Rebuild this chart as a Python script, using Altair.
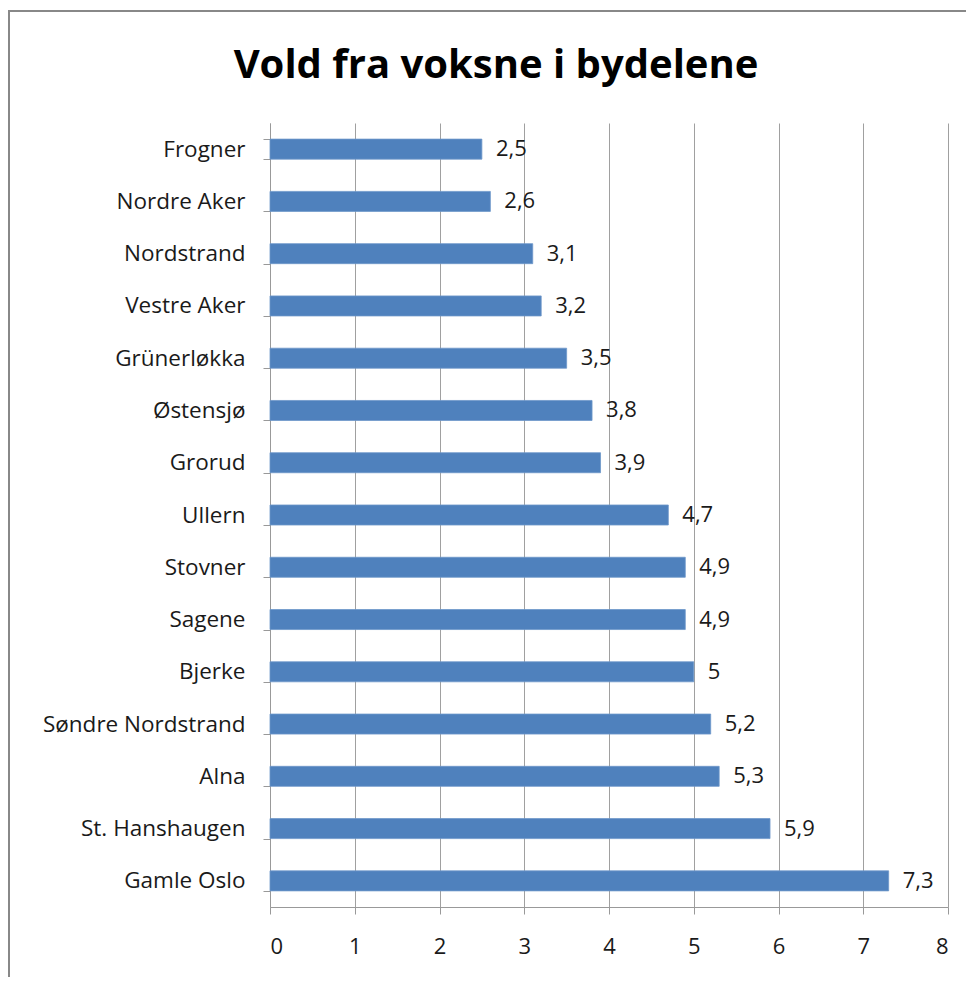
import altair as alt
import pandas as pd

districts = ["Frogner", "Nordre Aker", "Nordstrand", "Vestre Aker", "Grünerløkka",
             "Østensjø", "Grorud", "Ullern", "Stovner", "Sagene", "Bjerke",
             "Søndre Nordstrand", "Alna ", "St. Hanshaugen", "Gamle Oslo"]
values = [2.5, 2.6, 3.1, 3.2, 3.5, 3.8, 3.9, 4.7, 4.9, 4.9, 5.0, 5.2, 5.3, 5.9, 7.3]
labels = ["2,5", "2,6", "3,1", "3,2", "3,5", "3,8", "3,9", "4,7", "4,9", "4,9", "5",
          "5,2", "5,3", "5,9", "7,3"]
x_ticks = [0, 1, 2, 3, 4, 5, 6, 7, 8]
title_text = ["Vold fra voksne i bydelene"]

df = pd.DataFrame({"district": districts, "value": values, "label": labels})
tdf = pd.DataFrame({"t": title_text})

FONT = "Open Sans"
W, H = 678, 784

y_enc = alt.Y("district:N", sort=districts,
              scale=alt.Scale(paddingInner=0.617, paddingOuter=0.3085),
              axis=alt.Axis(title=None, tickBand="extent", grid=False,
                            domainColor="#999999", tickColor="#999999", tickSize=7,
                            labelFont=FONT, labelFontSize=22.5, labelColor="#1a1a1a",
                            labelPadding=18, labelLimit=400))
x_enc = alt.X("value:Q", scale=alt.Scale(domain=[0, 8], nice=False),
              axis=alt.Axis(title=None, values=x_ticks, grid=True, gridColor="#a0a0a0",
                            domainColor="#999999", tickColor="#999999", tickSize=7,
                            labelFont=FONT, labelFontSize=22, labelColor="#1a1a1a",
                            labelPadding=22, format="d"))

bars = alt.Chart(df).mark_bar(color="#4F81BD", stroke="#6d97c9", strokeWidth=0.8).encode(
    x=x_enc, y=y_enc)

text = alt.Chart(df).mark_text(align="left", baseline="middle", dx=14, font=FONT,
                               fontSize=22, color="#1a1a1a").encode(
    x="value:Q", y=alt.Y("district:N", sort=districts), text="label:N")

frame = alt.Chart(df).mark_rect(fill=None, stroke="#888888", strokeWidth=2).encode(
    x=alt.value(-261), x2=alt.value(2000), y=alt.value(-112), y2=alt.value(2000))

title = alt.Chart(tdf).mark_text(align="center", baseline="alphabetic", font=FONT,
                                 fontSize=40, fontWeight="bold", color="#000000").encode(
    x=alt.value(226), y=alt.value(-45), text="t:N")

chart = alt.layer(frame, bars, text, title).properties(
    width=W, height=H,
    padding={"left": 262, "top": 115, "right": 18, "bottom": 70},
    autosize=alt.AutoSizeParams(type="none"),
).configure_view(stroke=None)

chart.save("out.html", embed_options={"renderer": "svg", "actions": False})
